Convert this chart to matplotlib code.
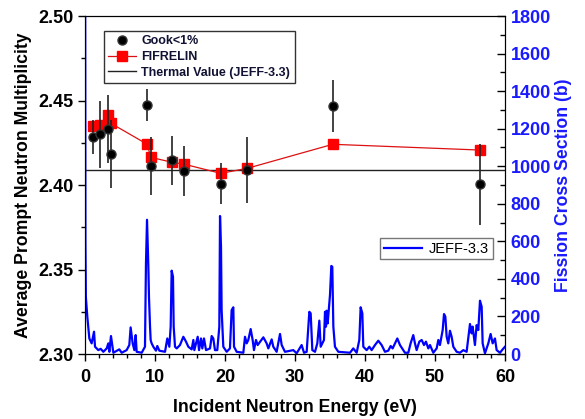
import matplotlib
matplotlib.use("Agg")
import matplotlib.pyplot as plt
from matplotlib.ticker import MultipleLocator
from matplotlib.lines import Line2D

plt.rcParams['font.family'] = ['Liberation Sans', 'DejaVu Sans']

# Gook <1% measurements
gook_E = [1.19, 2.14, 3.33, 3.71, 8.90, 9.38, 12.5, 14.1, 19.4, 23.2, 35.4, 56.4]
gook_nu = [2.4282, 2.4300, 2.4331, 2.4183, 2.4473, 2.4112, 2.4148, 2.4083, 2.4008, 2.4087, 2.4467, 2.4004]
gook_err = [0.010, 0.020, 0.020, 0.020, 0.0094, 0.017, 0.0145, 0.015, 0.012, 0.0196, 0.0155, 0.024]

# FIFRELIN
fif_E = [1.19, 2.14, 3.33, 3.71, 8.90, 9.38, 12.5, 14.1, 19.4, 23.2, 35.4, 56.4]
fif_nu = [2.4349, 2.4357, 2.4414, 2.4365, 2.4241, 2.4164, 2.4134, 2.4124, 2.4069, 2.4099, 2.4241, 2.4207]

thermal_nu = 2.4087

# JEFF-3.3 fission cross section (b)
xs_E = [0.0, 0.06, 0.12, 0.33, 0.62, 0.95, 1.29, 1.43, 1.90, 2.24, 2.62, 3.10, 3.33, 3.48,
        3.71, 3.90, 4.05, 4.90, 5.24, 5.95, 6.33, 6.52, 6.81, 7.05, 7.24, 7.38, 8.10, 8.57,
        8.71, 8.86, 9.05, 9.14, 9.29, 9.38, 9.52, 9.76, 10.14, 10.33, 10.62, 11.43, 11.76,
        12.05, 12.24, 12.38, 12.57, 12.67, 12.86, 13.10, 13.57, 14.05, 14.43, 14.76, 15.24,
        15.48, 15.62, 16.10, 16.29, 16.57, 16.76, 17.00, 17.29, 17.86, 18.10, 18.33, 18.57,
        18.90, 19.19, 19.29, 19.43, 19.52, 19.76, 20.24, 20.71, 20.95, 21.19, 21.29, 21.67,
        22.62, 22.86, 23.10, 23.33, 23.67, 23.95, 24.14, 24.43, 24.67, 25.48, 25.95, 26.19,
        26.67, 26.90, 27.38, 27.86, 28.10, 28.57, 29.76, 30.24, 30.95, 31.29, 31.67, 32.05,
        32.24, 32.48, 32.86, 33.19, 33.48, 33.67, 34.14, 34.29, 34.43, 34.52, 34.67, 34.86,
        35.00, 35.19, 35.33, 35.48, 35.71, 36.19, 37.86, 38.33, 38.81, 39.19, 39.38, 39.62,
        39.76, 40.24, 40.62, 40.95, 41.43, 41.90, 42.38, 42.86, 43.33, 43.67, 43.95, 44.29,
        44.62, 45.00, 45.71, 46.19, 46.52, 46.90, 47.14, 47.38, 47.76, 48.10, 48.43, 48.71,
        49.05, 49.29, 49.76, 50.24, 50.48, 50.71, 51.10, 51.29, 51.48, 51.67, 51.90, 52.14,
        52.38, 52.62, 53.10, 53.57, 54.05, 54.52, 55.00, 55.24, 55.38, 55.71, 55.95, 56.19,
        56.43, 56.67, 56.81, 57.14, 57.62, 57.95, 58.24, 58.57, 58.81, 59.29, 59.67, 60.00]
xs_sig = [3000, 600, 305, 199, 83, 57, 119, 39, 21, 28, 12, 30, 57, 12,
          96, 48, 7, 25, 7, 21, 48, 142, 57, 21, 101, 12, 7, 39,
          483, 715, 465, 305, 146, 75, 57, 39, 18, 43, 18, 12, 83,
          39, 146, 444, 412, 146, 39, 30, 48, 92, 66, 39, 25,
          75, 21, 92, 21, 83, 30, 83, 21, 30, 96, 83, 21,
          21, 146, 735, 572, 234, 39, 12, 30, 234, 249, 39, 12,
          7, 92, 57, 75, 133, 75, 21, 75, 48, 89, 57, 30,
          78, 39, 12, 107, 48, 12, 21, 4, 48, 7, 12, 225,
          217, 21, 12, 57, 178, 39, 75, 225, 146, 231, 163, 252,
          314, 469, 465, 146, 39, 12, 7, 30, 7, 75, 249, 217,
          39, 21, 39, 21, 48, 71, 48, 12, 18, 43, 30, 57,
          83, 48, 7, 7, 57, 101, 57, 21, 66, 75, 48, 66,
          30, 48, 7, 30, 75, 48, 128, 213, 199, 92, 57, 124,
          92, 39, 12, 7, 21, 12, 160, 110, 146, 48, 154, 128,
          284, 252, 57, 4, 57, 107, 57, 83, 21, 7, 25, 39]

fig = plt.figure(figsize=(5.85, 4.19), dpi=100)
ax = fig.add_axes([0.1453, 0.155, 0.7179, 0.8068])
ax2 = ax.twinx()
ax.set_zorder(ax2.get_zorder() + 1)
ax.patch.set_visible(False)

# cross section
ax2.plot(xs_E, xs_sig, color='#0000ff', lw=1.6, label='JEFF-3.3')
ax2.set_ylim(0, 1800)
ax2.yaxis.set_major_locator(MultipleLocator(200))
ax2.yaxis.set_minor_locator(MultipleLocator(100))
ax2.tick_params(axis='y', which='both', direction='in', colors='black',
                labelcolor='#1a1aff', labelsize=13, pad=4)
ax2.tick_params(axis='y', which='major', length=6, width=1)
ax2.tick_params(axis='y', which='minor', length=3.5, width=1)
for t in ax2.get_yticklabels():
    t.set_fontweight('bold')
ax2.set_ylabel('Fission Cross Section (b)', color='#1a1aff', fontsize=12.7,
               fontweight='bold', labelpad=3)
ax2.tick_params(axis='x', which='both', bottom=False, top=True, direction='in',
                labelbottom=False, labeltop=False)
ax2.tick_params(axis='x', which='major', length=6)
ax2.tick_params(axis='x', which='minor', length=3.5)
leg2 = ax2.legend(loc='upper left', bbox_to_anchor=(0.703, 0.343), fontsize=10.5,
                  frameon=True, fancybox=False, handlelength=2.6, borderaxespad=0,
                  borderpad=0.25, handletextpad=0.5)
leg2.get_frame().set_edgecolor('#555555')
leg2.get_frame().set_linewidth(1.0)

# thermal line
ax.axhline(thermal_nu, color='#222222', lw=1.0, zorder=2)

# FIFRELIN
ax.plot(fif_E, fif_nu, color='#dd1111', lw=0.9, marker='s', ms=6.8,
        mfc='#ff0000', mec='#ff0000', zorder=3)

# Gook
ax.errorbar(gook_E, gook_nu, yerr=gook_err, fmt='none', ecolor='#222222',
            elinewidth=1.2, capsize=0, zorder=4)
ax.plot(gook_E, gook_nu, ls='none', marker='o', ms=6.5, mfc='black', mec='#333333',
        zorder=5)

ax.set_xlim(0, 60)
ax.set_ylim(2.30, 2.50)
ax.xaxis.set_major_locator(MultipleLocator(10))
ax.xaxis.set_minor_locator(MultipleLocator(2))
ax.yaxis.set_major_locator(MultipleLocator(0.05))
ax.yaxis.set_minor_locator(MultipleLocator(0.025))
ax.tick_params(axis='both', which='both', direction='out', labelsize=13)
ax.tick_params(axis='both', which='major', length=5, width=1)
ax.tick_params(axis='both', which='minor', length=3, width=1)
ax.tick_params(axis='x', top=False, pad=6)
ax.set_yticks([2.30, 2.35, 2.40, 2.45, 2.50])
ax.set_yticklabels(['2.30', '2.35', '2.40', '2.45', '2.50'])
for t in ax.get_xticklabels() + ax.get_yticklabels():
    t.set_fontweight('bold')
ax.set_xlabel('Incident Neutron Energy (eV)', fontsize=12.7, fontweight='bold', labelpad=9)
ax.set_ylabel('Average Prompt Neutron Multiplicity', fontsize=12.7, fontweight='bold',
              labelpad=4)

handles = [
    Line2D([], [], ls='none', marker='o', ms=6.5, mfc='black', mec='#333333'),
    Line2D([], [], color='#dd1111', lw=0.9, marker='s', ms=6.5, mfc='#ff0000', mec='#ff0000'),
    Line2D([], [], color='#222222', lw=1.0),
]
leg = ax.legend(handles, ['Gook<1%', 'FIFRELIN', 'Thermal Value (JEFF-3.3)'],
                loc='upper left', bbox_to_anchor=(0.045, 0.956),
                prop={'weight': 'bold', 'size': 9.0}, frameon=True, fancybox=False,
                borderaxespad=0, handlelength=2.2, borderpad=0.35, labelspacing=0.3,
                handletextpad=0.45)
leg.get_frame().set_edgecolor('black')
leg.get_frame().set_linewidth(1.0)
for t in leg.get_texts():
    t.set_color('#111133')

fig.savefig('out.png', dpi=100)
